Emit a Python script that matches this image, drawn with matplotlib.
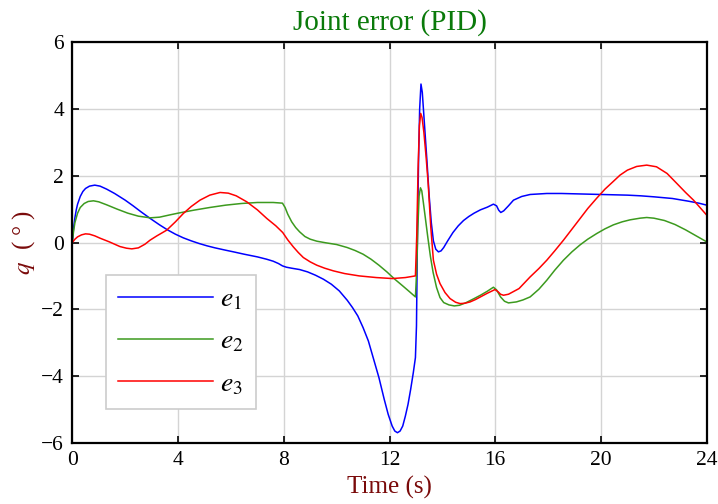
import numpy as np
import matplotlib
matplotlib.use('Agg')
import matplotlib.pyplot as plt

plt.rcParams['font.family'] = ['Liberation Serif', 'DejaVu Serif']
plt.rcParams['mathtext.fontset'] = 'stix'

#joint errors (time in s, error in deg)
t1 = [0, 0.05, 0.1, 0.15, 0.2, 0.3, 0.4, 0.5, 0.65, 0.85, 1.05, 1.3, 1.6, 2.0, 2.3, 2.6,
      2.95, 3.3, 3.6, 3.9, 4.2, 4.5, 4.8, 5.1, 5.4, 5.8, 6.1, 6.5, 7.0, 7.35, 7.6, 7.8,
      7.95, 8.1, 8.3, 8.6, 8.9, 9.2, 9.5, 9.8, 10.1, 10.4, 10.6, 10.8, 11.0, 11.2, 11.4,
      11.6, 11.8, 11.95, 12.1, 12.2, 12.3, 12.4, 12.5, 12.6, 12.7, 12.8, 12.9, 12.98,
      13.02, 13.06, 13.1, 13.14, 13.19, 13.24, 13.3, 13.36, 13.42, 13.5, 13.58, 13.66,
      13.75, 13.85, 13.95, 14.05, 14.2, 14.4, 14.6, 14.8, 15.0, 15.2, 15.44, 15.7, 15.93,
      16.05, 16.13, 16.21, 16.32, 16.5, 16.69, 17.0, 17.32, 17.95, 18.5, 19.0, 20.0, 21.0,
      21.5, 22.0, 22.7, 23.3, 23.7, 24]
e1 = [0, 0.45, 0.75, 0.98, 1.15, 1.38, 1.53, 1.62, 1.69, 1.72, 1.69, 1.6, 1.47, 1.27, 1.1, 0.92,
      0.72, 0.53, 0.38, 0.25, 0.14, 0.05, -0.03, -0.1, -0.16, -0.23, -0.28, -0.35, -0.43, -0.5, -0.56, -0.63,
      -0.7, -0.74, -0.77, -0.81, -0.88, -0.98, -1.1, -1.25, -1.45, -1.73, -1.95, -2.2, -2.55, -2.95, -3.5,
      -4.05, -4.7, -5.15, -5.5, -5.65, -5.7, -5.65, -5.5, -5.2, -4.85, -4.4, -3.9, -3.45,
      -2.5, 0.5, 2.5, 4.0, 4.75, 4.5, 3.8, 3.1, 2.4, 1.4, 0.6, 0.05,
      -0.2, -0.28, -0.25, -0.15, 0.05, 0.3, 0.5, 0.66, 0.78, 0.88, 0.98, 1.06, 1.15,
      1.1, 0.97, 0.9, 0.95, 1.1, 1.27, 1.38, 1.44, 1.47, 1.47, 1.46, 1.44, 1.42,
      1.4, 1.37, 1.32, 1.24, 1.18, 1.12]

t2 = [0, 0.05, 0.1, 0.2, 0.3, 0.45, 0.6, 0.8, 1.0, 1.3, 1.7, 2.1, 2.5, 2.95, 3.3, 3.7,
      4.0, 4.6, 5.2, 5.8, 6.4, 7.0, 7.6, 7.95, 8.05, 8.15, 8.3, 8.45, 8.6, 8.8, 9.0, 9.25,
      9.6, 10.0, 10.4, 10.7, 11.0, 11.3, 11.6, 11.9, 12.2, 12.5, 12.75, 12.98, 13.03, 13.07,
      13.12, 13.17, 13.22, 13.28, 13.35, 13.45, 13.55, 13.65, 13.78, 13.91, 14.05, 14.25,
      14.45, 14.65, 14.9, 15.2, 15.44, 15.7, 15.93, 16.05, 16.2, 16.35, 16.5, 16.8, 17.05,
      17.32, 17.65, 17.95, 18.25, 18.58, 18.9, 19.21, 19.5, 19.84, 20.15, 20.47, 20.8, 21.1,
      21.48, 21.73, 22.0, 22.4, 22.8, 23.2, 23.6, 24]
e2 = [0, 0.35, 0.6, 0.88, 1.05, 1.17, 1.23, 1.25, 1.22, 1.13, 1.0, 0.88, 0.79, 0.74, 0.76, 0.83,
      0.88, 0.97, 1.05, 1.12, 1.17, 1.2, 1.2, 1.18, 1.05, 0.85, 0.62, 0.45, 0.32, 0.18, 0.1, 0.04,
      -0.01, -0.06, -0.15, -0.24, -0.35, -0.5, -0.68, -0.88, -1.1, -1.3, -1.47, -1.63, -0.8, 0.4,
      1.4, 1.64, 1.55, 1.2, 0.77, 0.15, -0.43, -0.9, -1.35, -1.65, -1.8, -1.87,
      -1.9, -1.88, -1.8, -1.68, -1.58, -1.46, -1.34, -1.42, -1.63, -1.76, -1.81, -1.78, -1.72,
      -1.63, -1.4, -1.13, -0.83, -0.53, -0.28, -0.07, 0.1, 0.27, 0.41, 0.53, 0.62, 0.68,
      0.73, 0.75, 0.73, 0.66, 0.54, 0.38, 0.2, 0.02]

t3 = [0, 0.1, 0.2, 0.35, 0.5, 0.65, 0.85, 1.05, 1.4, 1.8, 2.05, 2.25, 2.5, 2.75, 2.94, 3.2,
      3.57, 3.9, 4.2, 4.5, 4.83, 5.2, 5.59, 5.9, 6.2, 6.6, 7.0, 7.36, 7.7, 7.96, 8.15, 8.36,
      8.55, 8.74, 9.0, 9.25, 9.55, 9.88, 10.3, 10.85, 11.5, 12.11, 12.6, 12.98, 13.03, 13.08,
      13.13, 13.18, 13.23, 13.3, 13.38, 13.46, 13.56, 13.66, 13.78, 13.91, 14.1, 14.29, 14.5,
      14.67, 14.85, 15.05, 15.25, 15.44, 15.7, 15.99, 16.1, 16.2, 16.31, 16.5, 16.9, 17.32,
      17.65, 17.95, 18.25, 18.58, 18.9, 19.21, 19.5, 19.84, 20.15, 20.45, 20.72, 21.0, 21.35,
      21.73, 22.1, 22.5, 22.87, 23.2, 23.5, 23.8, 24]
e3 = [0, 0.1, 0.17, 0.23, 0.26, 0.25, 0.2, 0.13, 0.02, -0.12, -0.17, -0.19, -0.16, -0.05, 0.07, 0.2,
      0.37, 0.62, 0.87, 1.08, 1.27, 1.42, 1.5, 1.48, 1.4, 1.22, 0.98, 0.72, 0.5, 0.3, 0.08, -0.13,
      -0.3, -0.45, -0.58, -0.68, -0.77, -0.85, -0.93, -1.0, -1.05, -1.08, -1.05, -1.0, 0.2, 2.2,
      3.5, 3.87, 3.75, 3.3, 2.6, 1.8, 0.47, -0.53, -0.95, -1.23, -1.5, -1.68, -1.79,
      -1.83, -1.82, -1.78, -1.71, -1.63, -1.52, -1.41, -1.47, -1.55, -1.58, -1.55, -1.38, -1.03,
      -0.78, -0.53, -0.25, 0.07, 0.4, 0.72, 1.02, 1.33, 1.6, 1.82, 2.02, 2.17, 2.28,
      2.32, 2.27, 2.07, 1.77, 1.5, 1.27, 1.0, 0.82]

labels = ['$e_1$', '$e_2$', '$e_3$']
colors = ['#0000ff', '#3c9a1e', '#ff0000']

fig = plt.figure(figsize=(7.18, 5.04), dpi=100)
ax = fig.add_axes([0.1007, 0.1216, 0.8836, 0.7944])

ax.plot(t1, e1, color=colors[0], lw=1.1, label=labels[0])
ax.plot(t2, e2, color=colors[1], lw=1.1, label=labels[1])
ax.plot(t3, e3, color=colors[2], lw=1.1, label=labels[2])

ax.set_xlim(0, 24)
ax.set_ylim(-6, 6)
ax.set_xticks(np.arange(0, 25, 4))
ax.set_yticks(np.arange(-6, 7, 2))
ax.grid(True, color='#d4d4d4', lw=1.0)
ax.tick_params(direction='in', top=True, right=True, labelsize=15.5, length=5, width=1.2, pad=6)
for s in ax.spines.values():
    s.set_linewidth(1.6)

ax.set_title('Joint error (PID)', color='#0a7a0a', fontsize=21, pad=9)
ax.set_xlabel('Time (s)', color='#7a0a0a', fontsize=18, labelpad=4)
ax.set_ylabel('$q$  ( ° )', color='#7a0a0a', fontsize=18, labelpad=3)

leg = ax.legend(loc='lower left', bbox_to_anchor=(0.053, 0.083), borderaxespad=0,
                fontsize=20, handlelength=3.4, labelspacing=0.6, fancybox=False,
                framealpha=1, edgecolor='#cccccc', borderpad=0.45, handletextpad=0.25)
leg.get_frame().set_linewidth(1.2)

plt.savefig('out.png', dpi=100)
